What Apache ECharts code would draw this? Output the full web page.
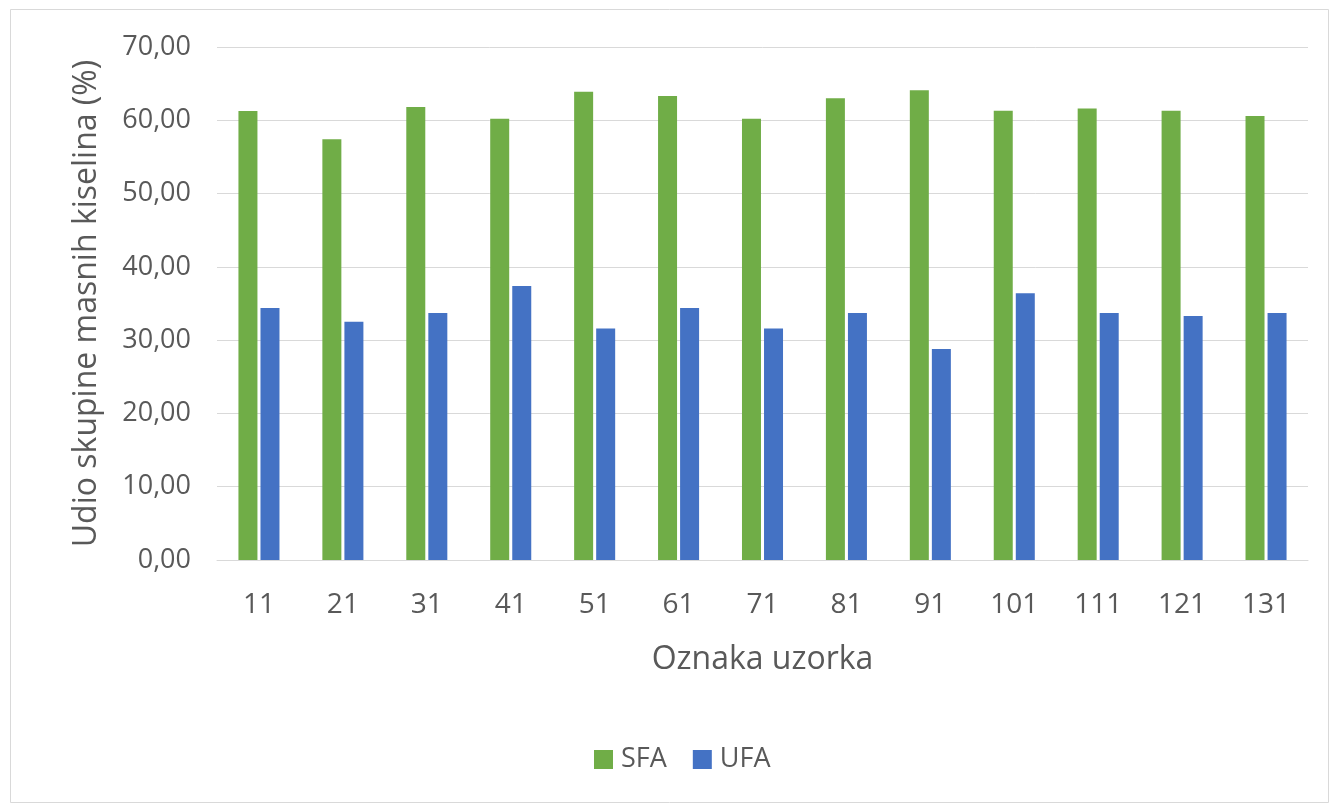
<!DOCTYPE html>
<html>
<head>
<meta charset="utf-8">
<script src="https://cdn.jsdelivr.net/npm/echarts@6/dist/echarts.min.js"></script>
<style>
html,body{margin:0;padding:0;background:#fff;}
#chart{width:1332px;height:808px;}
</style>
</head>
<body>
<div id="chart"></div>
<script>
const categories = ['11','21','31','41','51','61','71','81','91','101','111','121','131'];
const sfaValues = [61.26, 57.4, 61.8, 60.2, 63.9, 63.3, 60.2, 63.0, 64.1, 61.3, 61.6, 61.3, 60.6];
const ufaValues = [34.4, 32.5, 33.7, 37.4, 31.6, 34.4, 31.6, 33.7, 28.8, 36.4, 33.7, 33.3, 33.7];
const seriesNames = ['SFA', 'UFA'];
const yTitle = 'Udio skupine masnih kiselina (%)';
const xTitle = 'Oznaka uzorka';

const font = '"Open Sans", "Noto Sans", sans-serif';
const textColor = '#595959';
const chart = echarts.init(document.getElementById('chart'));
chart.setOption({
  animation: false,
  backgroundColor: '#fff',
  textStyle: {fontFamily: font},
  graphic: [{
    type: 'rect', left: 8, top: 7,
    shape: {width: 1318, height: 793},
    style: {fill: 'none', stroke: '#d9d9d9', lineWidth: 1}, silent: true
  }],
  grid: {left: 217, right: 24, top: 47, bottom: 248},
  legend: {
    top: 746, left: 594, padding: 0,
    itemWidth: 19, itemHeight: 19, itemGap: 26,
    icon: 'rect',
    textStyle: {fontFamily: font, fontSize: 27, color: textColor, padding: [0, 0, 0, 3]},
    data: seriesNames
  },
  xAxis: {
    type: 'category', data: categories,
    name: xTitle, nameLocation: 'middle', nameGap: 84,
    nameTextStyle: {fontFamily: font, fontSize: 32, color: textColor},
    axisLine: {lineStyle: {color: '#d9d9d9', width: 1}},
    axisTick: {show: false},
    axisLabel: {fontFamily: font, fontSize: 28, color: textColor, margin: 31}
  },
  yAxis: {
    type: 'value', min: 0, max: 70, interval: 10,
    name: yTitle, nameLocation: 'middle', nameGap: 114,
    nameTextStyle: {fontFamily: font, fontSize: 32, color: textColor},
    axisLine: {show: false}, axisTick: {show: false},
    splitLine: {lineStyle: {color: '#d9d9d9', width: 1}},
    axisLabel: {
      fontFamily: font, fontSize: 27, color: textColor, margin: 26,
      formatter: v => v.toFixed(2).replace('.', ',')
    }
  },
  series: [
    {name: seriesNames[0], type: 'bar', data: sfaValues, barWidth: 19, barGap: '16%',
     itemStyle: {color: '#70ad47'}},
    {name: seriesNames[1], type: 'bar', data: ufaValues, barWidth: 19, barGap: '16%',
     itemStyle: {color: '#4472c4'}}
  ]
});
</script>
</body>
</html>
